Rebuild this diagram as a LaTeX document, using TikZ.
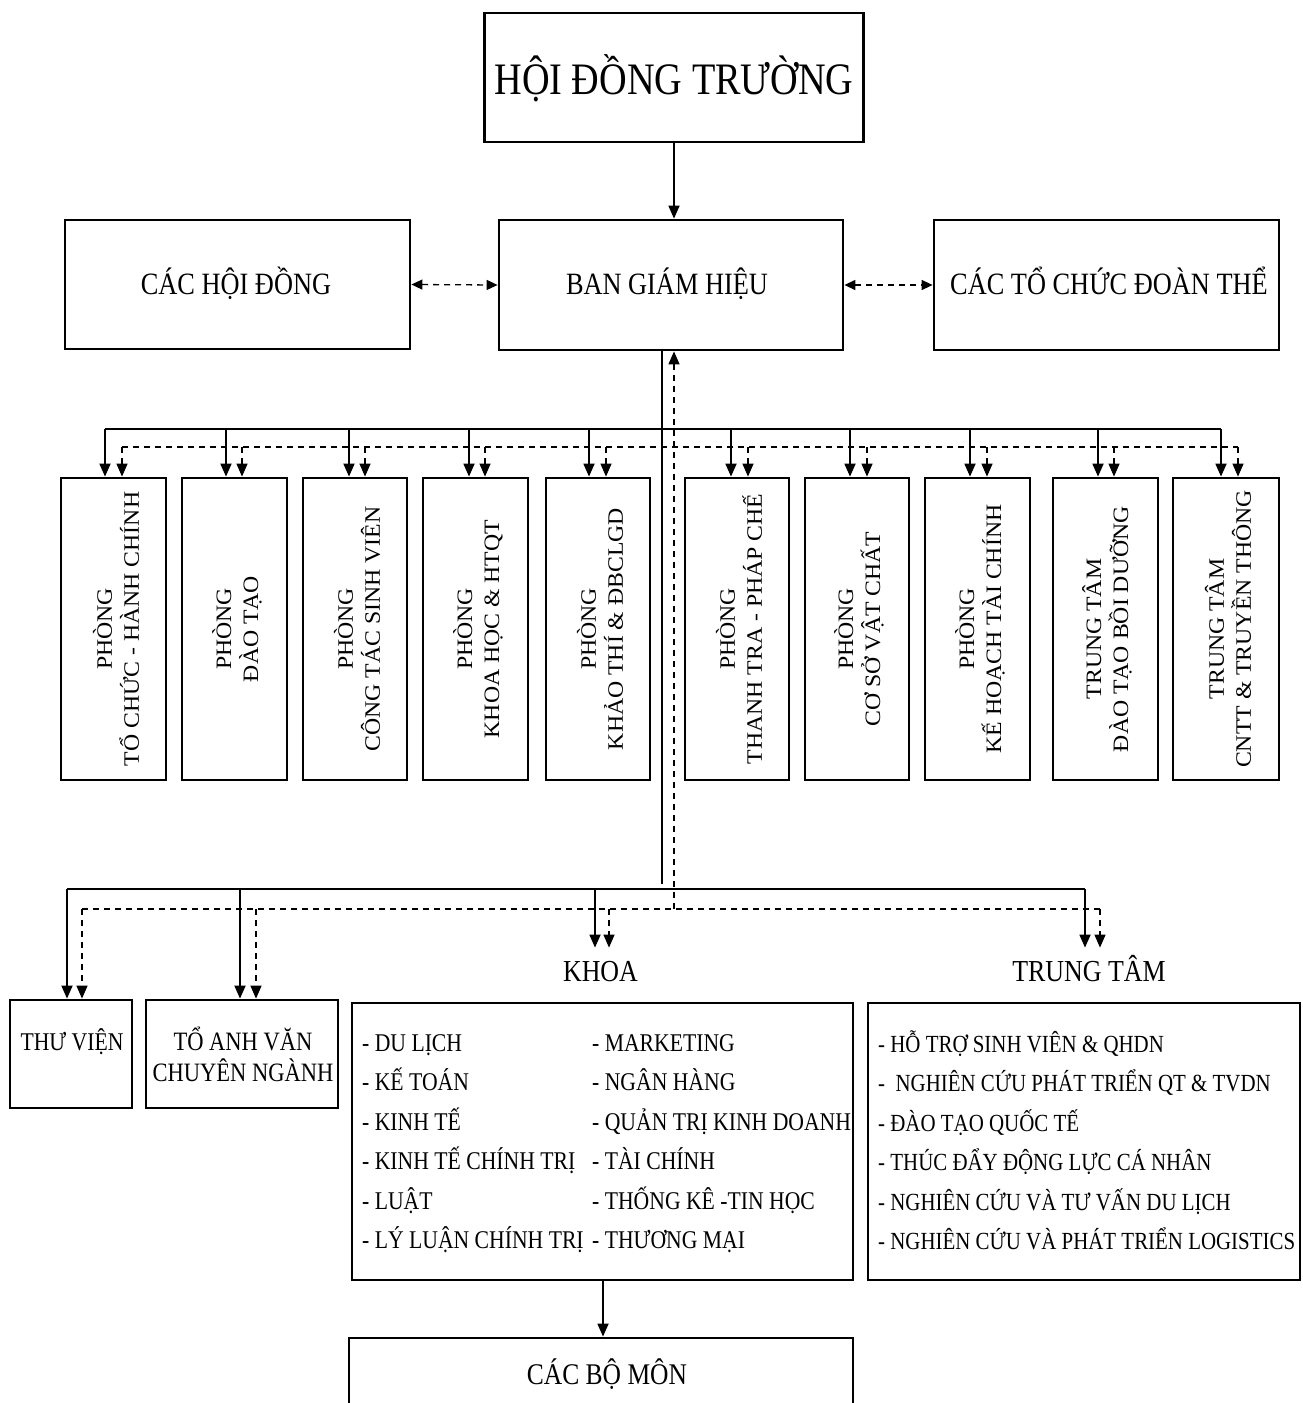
\documentclass[tikz,border=0pt]{standalone}
\usepackage{fontspec}
\setmainfont{Liberation Serif}[FakeStretch=0.85]
\newfontfamily\widefont{Liberation Serif}[FakeStretch=1.08]
\usetikzlibrary{arrows.meta}

\tikzset{
  box/.style={draw, line width=2.8pt, inner sep=0pt},
  lbl/.style={inner sep=0pt, anchor=base},
  listitem/.style={inner sep=0pt, anchor=base west, font=\fontsize{25.5}{30}\selectfont},
  centreitem/.style={inner sep=0pt, anchor=base west, font=\fontsize{24.6}{30}\selectfont},
  vlbl/.style={inner sep=0pt, rotate=90, align=center, font=\widefont\fontsize{22}{27}\selectfont},
  grouplbl/.style={inner sep=0pt, anchor=south, text height=34pt, text depth=0pt, font=\fontsize{30.5}{34}\selectfont},
  solidln/.style={line width=1.8pt},
  dashln/.style={line width=1.3pt, dash pattern=on 6pt off 5pt},
  headd/.style={-{Triangle[length=13pt,width=11pt]}},
  twoway/.style={{Triangle[length=11pt,width=10pt]}-{Triangle[length=11pt,width=10pt]}},
}

\begin{document}
\begin{tikzpicture}[x=1pt,y=-1pt]
\useasboundingbox (0,0) rectangle (1302,1403);
\fill[white] (0,0) rectangle (1302,1403);

% --- governing board ---
\node[box, minimum width=379pt, minimum height=129pt] (hdt) at (674,77.5) {};
\node[lbl, font=\fontsize{45}{50}\selectfont] (hdtt) at (674,94) {HỘI ĐỒNG TRƯỜNG};

% --- second row ---
\node[box, minimum width=345pt, minimum height=129pt] (hd) at (237.5,284.5) {};
\node[lbl, font=\fontsize{31}{36}\selectfont] (hdt2) at (236,294) {CÁC HỘI ĐỒNG};
\node[box, minimum width=344pt, minimum height=130pt] (bgh) at (671,285) {};
\node[lbl, font=\fontsize{31}{36}\selectfont] (bght) at (667,294) {BAN GIÁM HIỆU};
\node[box, minimum width=345pt, minimum height=130pt] (dt) at (1106.5,285) {};
\node[lbl, font=\fontsize{31}{36}\selectfont] (dtt) at (1109,294) {CÁC TỔ CHỨC ĐOÀN THỂ};

\draw[solidln, headd] (hdt.south) -- (hdt.south |- bgh.north);
\draw[dashln, twoway] (hd.east) -- (bgh.west);
\draw[dashln, twoway] (bgh.east) -- (dt.west);

% --- main trunk from the rector board ---
\coordinate (trunk) at (662,884);
\coordinate (dtrunk) at (674,909);
\draw[solidln] (bgh.south -| trunk) -- (trunk);
\draw[dashln, headd] (dtrunk) -- (bgh.south -| dtrunk);

% --- functional offices ---
\foreach \i/\l/\r/\s/\d in {1/61/166/105/122, 2/182/287/226/242, 3/303/407/349/365,
    4/423/528/469/485, 5/546/650/589/606, 6/685/789/731/748, 7/805/909/850/867,
    8/925/1030/970/987, 9/1053/1158/1098/1114, 10/1173/1279/1221/1238} {
  \node[box, minimum width={\r-\l}, minimum height=302pt] (p\i) at ({(\l+\r)/2},629) {};
  \coordinate (ps\i) at (\s,429);
  \coordinate (pd\i) at (\d,447);
  \draw[solidln, headd] (ps\i) -- (ps\i |- p\i.north);
  \draw[dashln, headd] (pd\i) -- (pd\i |- p\i.north);
}
\draw[solidln] (ps1) -- (ps10);
\draw[dashln] (pd1) -- (pd10);

\node[vlbl] (p1t) at (116,629) {PHÒNG\\TỔ CHỨC - HÀNH CHÍNH};
\node[vlbl] (p2t) at (237,629) {PHÒNG\\ĐÀO TẠO};
\node[vlbl] (p3t) at (357,629) {PHÒNG\\CÔNG TÁC SINH VIÊN};
\node[vlbl] (p4t) at (478,629) {PHÒNG\\KHOA HỌC \& HTQT};
\node[vlbl] (p5t) at (600,629) {PHÒNG\\KHẢO THÍ \& ĐBCLGD};
\node[vlbl] (p6t) at (739,629) {PHÒNG\\THANH TRA - PHÁP CHẾ};
\node[vlbl] (p7t) at (859,629) {PHÒNG\\CƠ SỞ VẬT CHẤT};
\node[vlbl] (p8t) at (980,629) {PHÒNG\\KẾ HOẠCH TÀI CHÍNH};
\node[vlbl] (p9t) at (1107,629) {TRUNG TÂM\\ĐÀO TẠO BỒI DƯỠNG};
\node[vlbl] (p10t) at (1228,629) {TRUNG TÂM\\CNTT \& TRUYỀN THÔNG};

% --- lower units ---
\coordinate (lb1) at (67,889);
\coordinate (lb2) at (240,889);
\coordinate (lb3) at (595,889);
\coordinate (lb4) at (1085,889);
\coordinate (ld1) at (82,909);
\coordinate (ld2) at (256,909);
\coordinate (ld3) at (609,909);
\coordinate (ld4) at (1100,909);
\draw[solidln] (lb1) -- (lb4);
\draw[dashln] (ld1) -- (ld4);

\node[box, minimum width=122pt, minimum height=108pt] (tv) at (71,1054) {};
\node[lbl, font=\fontsize{25.5}{30}\selectfont] (tvt) at (72,1050) {THƯ VIỆN};
\node[box, minimum width=192pt, minimum height=108pt] (av) at (242,1054) {};
\node[lbl, font=\fontsize{26.5}{30}\selectfont] (avt1) at (243,1050) {TỔ ANH VĂN};
\node[lbl, font=\fontsize{26.5}{30}\selectfont] (avt2) at (243,1081) {CHUYÊN NGÀNH};

\node[grouplbl] (khoal) at (600.5,982) {KHOA};
\node[grouplbl] (ttl) at (1089,982) {TRUNG TÂM};

\draw[solidln, headd] (lb1) -- (lb1 |- tv.north);
\draw[dashln, headd] (ld1) -- (ld1 |- tv.north);
\draw[solidln, headd] (lb2) -- (lb2 |- av.north);
\draw[dashln, headd] (ld2) -- (ld2 |- av.north);
\draw[solidln, headd] (lb3) -- (lb3 |- khoal.north);
\draw[dashln, headd] (ld3) -- (ld3 |- khoal.north);
\draw[solidln, headd] (lb4) -- (lb4 |- ttl.north);
\draw[dashln, headd] (ld4) -- (ld4 |- ttl.north);

% --- faculties ---
\node[box, minimum width=501pt, minimum height=277pt] (kb) at (602.5,1141.5) {};
\foreach \j/\a/\b in {0/DU LỊCH/MARKETING, 1/KẾ TOÁN/NGÂN HÀNG, 2/KINH TẾ/QUẢN TRỊ KINH DOANH,
    3/KINH TẾ CHÍNH TRỊ/TÀI CHÍNH, 4/LUẬT/THỐNG KÊ -TIN HỌC, 5/LÝ LUẬN CHÍNH TRỊ/THƯƠNG MẠI} {
  \node[listitem] (ka\j) at (362,{1051+39.5*\j}) {- \a};
  \node[listitem] (kr\j) at (592,{1051+39.5*\j}) {- \b};
}

% --- centres ---
\node[box, minimum width=432pt, minimum height=277pt] (tb) at (1084,1141.5) {};
\node[centreitem] (tc0) at (878,1052) {- HỖ TRỢ SINH VIÊN \& QHDN};
\node[centreitem] (tc1) at (878,1091.5) {-\ \ NGHIÊN CỨU PHÁT TRIỂN QT \& TVDN};
\node[centreitem] (tc2) at (878,1131) {- ĐÀO TẠO QUỐC TẾ};
\node[centreitem] (tc3) at (878,1170.5) {- THÚC ĐẨY ĐỘNG LỰC CÁ NHÂN};
\node[centreitem] (tc4) at (878,1210) {- NGHIÊN CỨU VÀ TƯ VẤN DU LỊCH};
\node[centreitem] (tc5) at (878,1249.5) {- NGHIÊN CỨU VÀ PHÁT TRIỂN LOGISTICS};

% --- departments ---
\node[box, minimum width=504pt, minimum height=100pt] (bm) at (601,1388) {};
\node[lbl, font=\fontsize{30}{34}\selectfont] (bmt) at (607,1384) {CÁC BỘ MÔN};
\draw[solidln, headd] ([xshift=0.5pt]kb.south) -- ([xshift=0.5pt]kb.south |- bm.north);

\end{tikzpicture}
\end{document}
